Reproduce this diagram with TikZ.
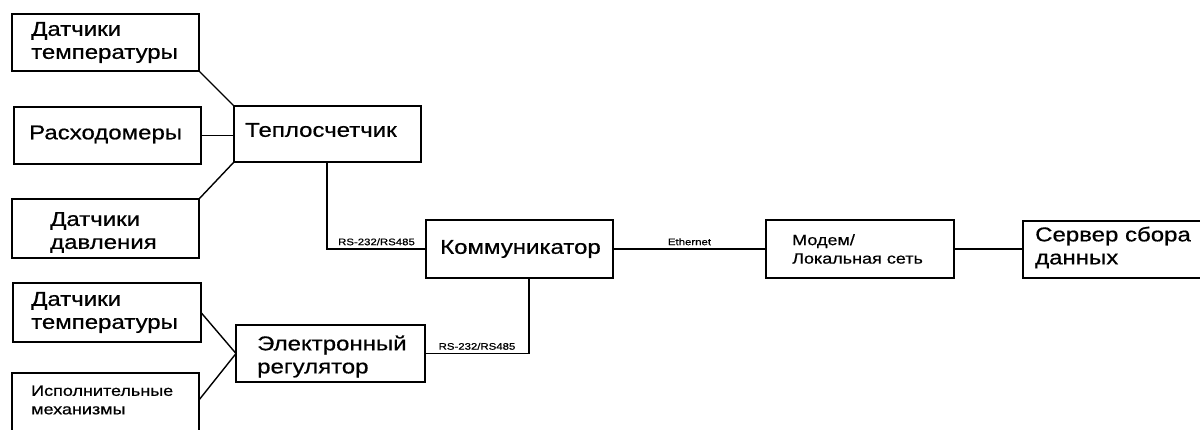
\documentclass[tikz,border=0pt]{standalone}
\usepackage{fontspec}
\setmainfont{Liberation Sans}[FakeStretch=1.2, FakeBold=0.6]
\begin{document}
\begin{tikzpicture}[x=1pt,y=-1pt,
  box/.style={draw, line width=1.8pt, inner sep=0pt, outer sep=0pt},
  wire/.style={line width=1.4pt},
  big/.style={anchor=west, inner sep=0pt, align=left, font=\fontsize{20}{23}\selectfont},
  mid/.style={anchor=west, inner sep=0pt, align=left, font=\fontsize{15}{18.5}\selectfont},
  tag/.style={inner sep=0pt, font=\fontsize{9.5}{11}\selectfont}]
\useasboundingbox (0,0) rectangle (1200,430);

% blocks
\node[box, minimum width=187pt, minimum height=57pt] (ts1) at (105.5,42.5) {};
\node[box, minimum width=187pt, minimum height=57pt] (rash) at (107.5,135.5) {};
\node[box, minimum width=187pt, minimum height=59pt] (davl) at (105.5,228.5) {};
\node[box, minimum width=187pt, minimum height=56pt] (teplo) at (327.5,134) {};
\node[box, minimum width=187pt, minimum height=58pt] (komm) at (519.5,249) {};
\node[box, minimum width=188pt, minimum height=59pt] (ts2) at (107,312.5) {};
\node[box, minimum width=187pt, minimum height=72pt] (isp) at (105.5,409) {};
\node[box, minimum width=189pt, minimum height=57pt] (reg) at (330.5,353.5) {};
\node[box, minimum width=188pt, minimum height=58pt] (modem) at (860,249) {};
\node[box, minimum width=192pt, minimum height=57pt] (server) at (1119,249.5) {};

% block captions
\node[big] (ts1t) at ([xshift=19pt]ts1.west) {Датчики\\температуры};
\node[big] (rasht) at ([xshift=15pt,yshift=1pt]rash.west) {Расходомеры};
\node[big] (davlt) at ([xshift=38pt,yshift=-4pt]davl.west) {Датчики\\давления};
\node[big] (teplot) at ([xshift=11pt,yshift=4pt]teplo.west) {Теплосчетчик};
\node[big] (kommt) at ([xshift=14pt]komm.west) {Коммуникатор};
\node[big] (ts2t) at ([xshift=18pt]ts2.west) {Датчики\\температуры};
\node[mid] (ispt) at ([xshift=19pt,yshift=-27pt]isp.north west) {Исполнительные\\механизмы};
\node[big] (regt) at ([xshift=21pt,yshift=-3pt]reg.west) {Электронный\\регулятор};
\node[mid] (modemt) at ([xshift=26pt]modem.west) {Модем/\\Локальная сеть};
\node[big] (servert) at ([xshift=12pt,yshift=2pt]server.west) {Сервер сбора\\данных};

% connections
\draw[wire] (ts1.south east) -- (teplo.north west);
\draw[wire] (rash.east) -- (rash.east -| teplo.west);
\draw[wire] (teplo.south west) -- (davl.north east);
\draw[wire] ([xshift=93pt]teplo.south west) |- (komm.west)
  node[tag, pos=0.75, above=3pt] (l1) {RS-232/RS485};
\draw[wire] (ts2.east) -- (reg.west);
\draw[wire] ([yshift=-27pt]isp.north east) -- (reg.west);
\draw[wire] (reg.east) -| ([xshift=103pt]komm.south west)
  node[tag, pos=0.25, above=3pt] (l2) {RS-232/RS485};
\draw[wire] (komm.east) -- (modem.west)
  node[tag, midway, above=3pt] (l3) {Ethernet};
\draw[wire] (modem.east) -- (modem.east -| server.west);
\end{tikzpicture}
\end{document}
